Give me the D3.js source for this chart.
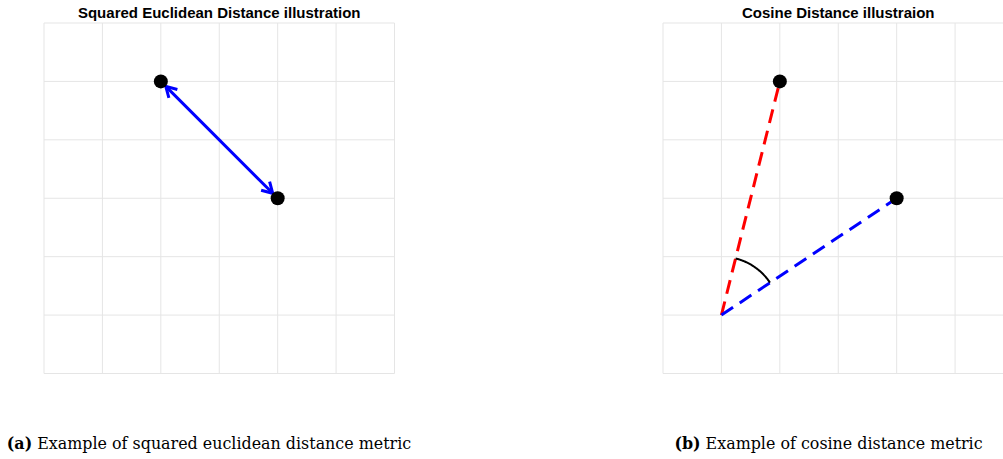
<!DOCTYPE html>
<html><head><meta charset="utf-8">
<script src="https://cdn.jsdelivr.net/npm/d3@7"></script>
<style>body{margin:0;background:#fff;overflow:hidden}svg{display:block}</style>
</head><body>
<svg id="c" width="1003" height="459"></svg>
<script>
const gridTicks = [0,1,2,3,4,5,6];
const pointX = [2,4];
const pointY = [5,3];
const originX = [1];
const originY = [1];
const titles = ["Squared Euclidean Distance illustration","Cosine Distance illustraion"];
const captionLabels = ["(a)","(b)"];
const captionTexts = [" Example of squared euclidean distance metric"," Example of cosine distance metric"];

const svg = d3.select("#c");
const panelLeft = [44, 663];
const panelTop = 23, size = 350.5;

function panel(i){
  const x = d3.scaleLinear().domain([0,6]).range([panelLeft[i], panelLeft[i]+size]);
  const y = d3.scaleLinear().domain([0,6]).range([panelTop+size, panelTop]);
  const g = svg.append("g");
  g.selectAll("line.v").data(gridTicks).join("line")
    .attr("x1",d=>x(d)).attr("x2",d=>x(d)).attr("y1",y(0)).attr("y2",y(6))
    .attr("stroke","#e5e5e5").attr("stroke-width",1);
  g.selectAll("line.h").data(gridTicks).join("line")
    .attr("x1",x(0)).attr("x2",x(6)).attr("y1",d=>y(d)).attr("y2",d=>y(d))
    .attr("stroke","#e5e5e5").attr("stroke-width",1);
  g.append("text").attr("x",(x(0)+x(6))/2).attr("y",18)
    .attr("text-anchor","middle").attr("font-family","Liberation Sans, Arial, sans-serif")
    .attr("font-weight","bold").attr("font-size",15).attr("fill","#000").text(titles[i]);
  return {g,x,y};
}

// Panel A
{
  const {g,x,y} = panel(0);
  const x1=x(pointX[0]), y1=y(pointY[0]), x2=x(pointX[1]), y2=y(pointY[1]);
  const dx=x2-x1, dy=y2-y1, L=Math.hypot(dx,dy), ux=dx/L, uy=dy/L;
  const off=7;
  const ax=x1+ux*off, ay=y1+uy*off, bx=x2-ux*off, by=y2-uy*off;
  g.append("line").attr("x1",ax).attr("y1",ay).attr("x2",bx).attr("y2",by)
    .attr("stroke","#0000ff").attr("stroke-width",3);
  function head(tx,ty,vx,vy){
    const len=12, ang=Math.PI/6;
    const a=Math.atan2(vy,vx);
    const p1=[tx-len*Math.cos(a-ang), ty-len*Math.sin(a-ang)];
    const p2=[tx-len*Math.cos(a+ang), ty-len*Math.sin(a+ang)];
    g.append("path").attr("d",`M${p1[0]},${p1[1]}L${tx},${ty}L${p2[0]},${p2[1]}`)
      .attr("fill","none").attr("stroke","#0000ff").attr("stroke-width",3)
      .attr("stroke-linejoin","miter").attr("stroke-linecap","butt");
  }
  head(bx,by,ux,uy);
  head(ax,ay,-ux,-uy);
  g.selectAll("circle").data(pointX).join("circle")
    .attr("cx",(d)=>x(d)).attr("cy",(d,j)=>y(pointY[j])).attr("r",7).attr("fill","#000");
}

// Panel B
{
  const {g,x,y} = panel(1);
  const ox=x(originX[0]), oy=y(originY[0]);
  const colors=["#ff0000","#0000ff"];
  pointX.forEach((px,j)=>{
    g.append("line").attr("x1",ox).attr("y1",oy).attr("x2",x(px)).attr("y2",y(pointY[j]))
      .attr("stroke",colors[j]).attr("stroke-width",3).attr("stroke-dasharray","14,8");
  });
  const a1 = Math.atan2(pointY[0]-originY[0], pointX[0]-originX[0]);
  const a2 = Math.atan2(pointY[1]-originY[0], pointX[1]-originX[0]);
  const arcPts = d3.range(0,41).map(k=>{
    const a=a1+(a2-a1)*k/40;
    return [x(originX[0]+Math.cos(a)), y(originY[0]+Math.sin(a))];
  });
  g.append("path").attr("d",d3.line()(arcPts)).attr("fill","none").attr("stroke","#000").attr("stroke-width",2);
  g.selectAll("circle").data(pointX).join("circle")
    .attr("cx",(d)=>x(d)).attr("cy",(d,j)=>y(pointY[j])).attr("r",7).attr("fill","#000");
}

// Captions
const capCenters=[209, 828.5];
capCenters.forEach((cx,i)=>{
  const t = svg.append("text").attr("x",cx).attr("y",449).attr("text-anchor","middle")
    .attr("font-family","DejaVu Serif, serif").attr("font-size",15.9).attr("fill","#000");
  t.append("tspan").attr("font-weight","bold").text(captionLabels[i]);
  t.append("tspan").text(captionTexts[i]);
});
</script>
</body></html>
